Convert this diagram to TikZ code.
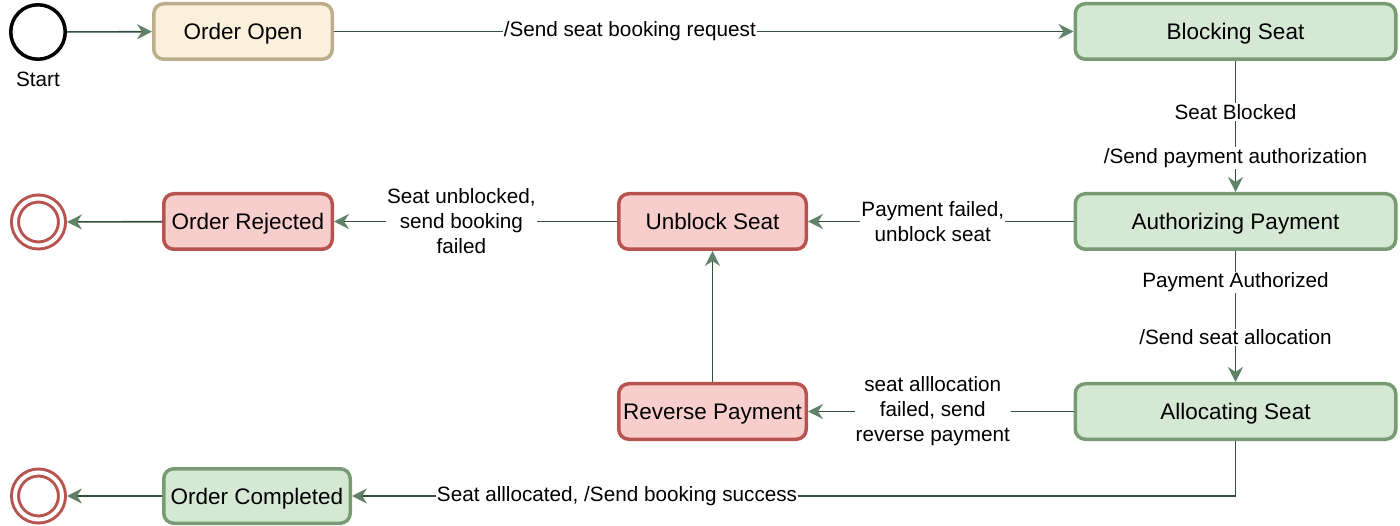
\documentclass[tikz,border=0pt]{standalone}
\usepackage{fontspec}
\setmainfont{Liberation Sans}
\usetikzlibrary{arrows.meta}
\definecolor{grfill}{RGB}{213,232,212}
\definecolor{grline}{RGB}{120,155,115}
\definecolor{rdfill}{RGB}{248,206,204}
\definecolor{rdline}{RGB}{184,84,80}
\definecolor{yefill}{RGB}{250,240,220}
\definecolor{yeline}{RGB}{188,174,138}
\definecolor{edgec}{RGB}{50,80,60}
\definecolor{tipc}{RGB}{95,130,105}
\begin{document}
\begin{tikzpicture}[x=1pt,y=-1pt,
  state/.style={line width=3.5pt, rounded corners=10pt, minimum height=55.5pt, inner sep=0pt,
    text depth=0pt, font=\fontsize{22.5}{27}\selectfont},
  gstate/.style={state, draw=grline, fill=grfill},
  rstate/.style={state, draw=rdline, fill=rdfill},
  ystate/.style={state, draw=yeline, fill=yefill},
  startc/.style={circle, draw=black, line width=3.5pt, minimum size=54.5pt, inner sep=0pt},
  endc/.style={circle, draw=rdline, double=white, double distance=4pt, line width=3pt, minimum size=47pt, inner sep=0pt},
  conn/.style={draw=edgec, line width=1.6pt, -{Stealth[length=15pt,width=15pt,inset=5pt,color=tipc,fill=tipc]}},
  lbl/.style={fill=white, inner sep=1pt, align=center, font=\fontsize{20.7}{25}\selectfont},
  plain/.style={inner sep=1pt, font=\fontsize{20.7}{25}\selectfont}
]
\useasboundingbox (0,0) rectangle (1400,526);

\node[startc] (start) at (38,32) {};
\node[plain] (startlbl) at (38,79) {Start};

\node[ystate, minimum width=178.5pt] (open) at (243,31.5) {Order Open};
\node[gstate, minimum width=320.5pt] (block) at (1235.5,31.5) {Blocking Seat};
\node[gstate, minimum width=320.5pt] (auth) at (1235.5,221.5) {Authorizing Payment};
\node[gstate, minimum width=320.5pt] (alloc) at (1235.5,411.5) {Allocating Seat};
\node[rstate, minimum width=187.5pt] (unblock) at (712.5,221.5) {Unblock Seat};
\node[rstate, minimum width=187.5pt] (reverse) at (712.5,411.5) {Reverse Payment};
\node[rstate, minimum width=168.5pt] (rejected) at (248,221.5) {Order Rejected};
\node[gstate, minimum width=186.5pt, minimum height=54.5pt] (done) at (257,496) {Order Completed};

\node[endc] (end1) at (38.5,222) {};
\node[endc] (end2) at (38.5,496) {};

\draw[conn] (start) -- (open);
\draw[conn] (open) -- node[lbl, pos=0.4] {/Send seat booking request} (block);
\draw[conn] (block) -- node[lbl, pos=0.39] {Seat Blocked}
                       node[lbl, pos=0.74] {/Send payment authorization} (auth);
\draw[conn] (auth) -- node[lbl, pos=0.24] {Payment Authorized}
                      node[lbl, pos=0.66] {/Send seat allocation} (alloc);
\draw[conn] (auth) -- node[lbl, pos=0.53] {Payment failed,\\unblock seat} (unblock);
\draw[conn] (unblock) -- node[lbl, pos=0.55] {Seat unblocked,\\send booking\\failed} (rejected);
\draw[conn, shorten >=3.5pt] (rejected) -- (end1);
\draw[conn] (alloc) -- node[lbl, pos=0.53] {seat alllocation\\failed, send\\reverse payment} (reverse);
\draw[conn] (reverse) -- (unblock);
\draw[conn] (alloc.south) |- node[lbl, pos=0.85] {Seat alllocated, /Send booking success} (done.east);
\draw[conn, shorten >=3.5pt] (done) -- (end2);
\end{tikzpicture}
\end{document}
